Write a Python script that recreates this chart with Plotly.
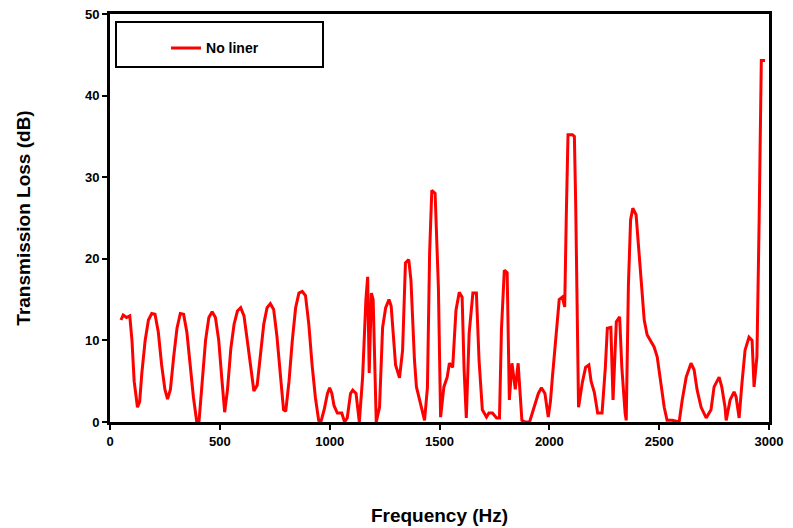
import plotly.graph_objects as go

freq = [50, 60, 75, 90, 100, 110, 125, 135, 145, 160, 175, 190, 205, 220, 235, 250, 262, 275, 290, 305,
        320, 335, 350, 365, 380, 395, 405, 420, 435, 450, 465, 480, 495, 510, 522, 535, 550, 565, 580, 595,
        610, 625, 640, 655, 670, 685, 700, 715, 730, 745, 760, 775, 790, 800, 815, 830, 845, 860, 875, 890,
        905, 920, 935, 950, 960, 975, 990, 1000, 1010, 1020, 1035, 1055, 1068, 1080, 1095, 1105, 1120, 1135, 1150, 1165,
        1173, 1180, 1190, 1198, 1212, 1227, 1241, 1255, 1270, 1280, 1290, 1300, 1318, 1332, 1345, 1360, 1370, 1378, 1386, 1395,
        1410, 1425, 1432, 1445, 1455, 1465, 1480, 1495, 1505, 1520, 1535, 1545, 1560, 1575, 1590, 1603, 1612, 1622, 1635, 1652,
        1668, 1680, 1695, 1714, 1725, 1741, 1760, 1773, 1782, 1795, 1808, 1818, 1830, 1845, 1858, 1875, 1890, 1910, 1932, 1950,
        1964, 1980, 1995, 2005, 2014, 2032, 2045, 2059, 2070, 2077, 2085, 2105, 2114, 2120, 2127, 2133, 2150, 2165, 2180, 2190,
        2205, 2220, 2240, 2255, 2264, 2280, 2290, 2298, 2305, 2320, 2330, 2345, 2350, 2360, 2370, 2380, 2395, 2405, 2418, 2432,
        2445, 2464, 2477, 2491, 2509, 2523, 2536, 2560, 2591, 2605, 2623, 2645, 2659, 2673, 2691, 2714, 2736, 2750, 2773, 2785,
        2800, 2805, 2823, 2841, 2850, 2864, 2877, 2891, 2909, 2923, 2932, 2945, 2955, 2965, 2982]

tl_no_liner = [12.5, 13.1, 12.8, 13.0, 10, 5, 1.8, 2.5, 6, 10, 12.5, 13.3, 13.2, 11, 7, 4, 2.8, 4, 8, 11.5,
               13.3, 13.2, 11, 7, 3, 0, 0, 5, 10, 12.8, 13.5, 12.8, 10, 5, 1.2, 4, 9, 12, 13.6, 14,
               13, 10, 6.5, 3.8, 4.5, 8, 12, 14, 14.5, 13.8, 10.5, 6, 1.5, 1.3, 5, 10, 14, 15.8, 16, 15.5,
               12, 7, 3, 0.2, 0, 1.5, 3.5, 4.2, 3.5, 2, 1.1, 1.1, 0, 0.5, 3.5, 3.9, 3.5, 0, 5.5, 15,
               17.8, 6, 15.8, 15, 0, 1.8, 11.6, 14, 15, 14.2, 10, 7, 5.4, 8.8, 19.5, 19.9, 17.4, 12.5, 7.6, 4.3,
               2.7, 1, 0.2, 4.2, 20.7, 28.4, 28, 16.5, 0.6, 4.3, 5.5, 7.2, 6.7, 13.7, 15.9, 15.3, 6.4, 0.5, 10.9, 15.8,
               15.8, 7.6, 1.5, 0.6, 1.1, 1.1, 0.5, 0.5, 11.3, 18.6, 18.3, 2.7, 7.2, 4, 7.2, 0.2, 0, 0, 1.8, 3.5,
               4.2, 3.5, 0.6, 2.5, 5.5, 11.3, 15, 15.3, 14.1, 25, 35.2, 35.2, 35, 26.8, 10, 1.8, 4.8, 6.7, 7, 5,
               3.6, 1.1, 1.1, 6.7, 11.5, 11.6, 2.7, 8.8, 12.3, 12.9, 6.7, 1.1, 0.2, 16.8, 24.8, 26.2, 25.4, 21.9, 16.8, 12.5,
               10.7, 9.8, 9.2, 8, 4.3, 1.8, 0.2, 0.2, 0, 2.7, 5.5, 7.2, 6.4, 3.9, 1.8, 0.5, 1.5, 4.3, 5.5, 4.3,
               1.8, 0.2, 2.7, 3.7, 3.1, 0.5, 4.8, 8.8, 10.4, 10, 4.3, 8, 24.5, 44.3, 44.3]

series_name = "No liner"
x_ticks = [0, 500, 1000, 1500, 2000, 2500, 3000]
y_ticks = [0, 10, 20, 30, 40, 50]

FONT = "Liberation Sans, Arial, sans-serif"

fig = go.Figure()
fig.add_trace(go.Scatter(x=freq, y=tl_no_liner, mode="lines", name=f"<b>{series_name}</b>",
                         line=dict(color="#FF0000", width=3)))

fig.update_layout(
    width=793, height=528,
    margin=dict(l=110, r=24, t=14, b=106),
    plot_bgcolor="white", paper_bgcolor="white",
    font=dict(family=FONT, color="black"),
    showlegend=True,
    legend=dict(x=0.085, y=0.955, xanchor="left", yanchor="top",
                bgcolor="rgba(0,0,0,0)", borderwidth=0,
                font=dict(size=14, family=FONT, color="black")),
    shapes=[dict(type="rect", xref="paper", yref="paper",
                 x0=(116 - 110) / 659, x1=(323 - 110) / 659,
                 y0=(422 - 67) / 408, y1=(422 - 22) / 408,
                 line=dict(color="black", width=2), fillcolor="rgba(0,0,0,0)")],
)

fig.update_xaxes(range=[0, 3000], tickvals=x_ticks,
                 ticktext=[f"<b>{t}</b>" for t in x_ticks],
                 showline=True, linecolor="black", linewidth=3, mirror=True,
                 ticks="outside", ticklen=5, tickwidth=2, tickcolor="black",
                 showgrid=False, zeroline=False, automargin=False,
                 tickfont=dict(size=13, family=FONT, color="black"),
                 title=dict(text="<b>Frequency (Hz)</b>", font=dict(size=19, family=FONT, color="black"),
                            standoff=62))
fig.update_yaxes(range=[0, 50], tickvals=y_ticks,
                 ticktext=[f"<b>{t}</b>" for t in y_ticks],
                 showline=True, linecolor="black", linewidth=3, mirror=True,
                 ticks="outside", ticklen=5, tickwidth=2, tickcolor="black",
                 showgrid=False, zeroline=False, automargin=False,
                 tickfont=dict(size=13, family=FONT, color="black"),
                 title=dict(text="<b>Transmission Loss (dB)</b>", font=dict(size=19, family=FONT, color="black"),
                            standoff=50))

fig.write_html("out.html")
